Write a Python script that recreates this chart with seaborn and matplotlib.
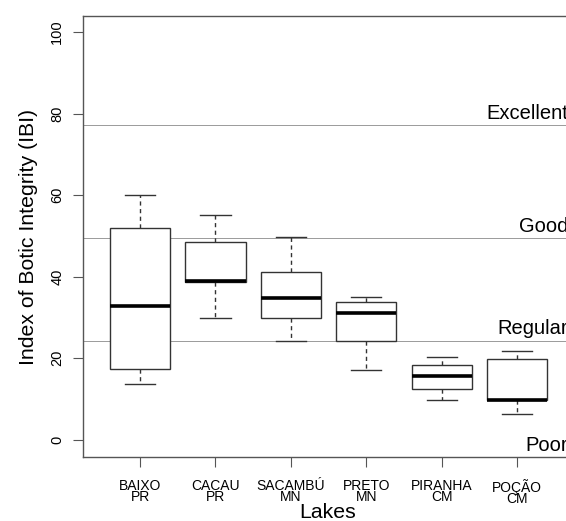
import pandas as pd
import numpy as np
import matplotlib.pyplot as plt
import seaborn as sns

# === Data: five-number summaries (min, Q1, median, Q3, max) ===
lakes = ["BAIXO\nPR", "CACAU\nPR", "SACAMBÚ\nMN", "PRETO\nMN", "PIRANHA\nCM", "POÇÃO\nCM"]
baixo = [13.7, 17.3, 32.8, 52.0, 60.0]
cacau = [29.9, 38.8, 39.0, 48.4, 55.2]
sacambu = [24.3, 29.9, 34.7, 41.1, 49.8]
preto = [17.2, 24.3, 31.0, 33.7, 34.9]
piranha = [9.8, 12.4, 15.7, 18.3, 20.3]
pocao = [6.4, 9.8, 9.8, 19.9, 21.8]

# quality classes (threshold lines + labels)
class_names = ["Excellent", "Good", "Regular", "Poor"]
class_lines = [77.3, 49.5, 24.3]
class_text_y = [78.6, 50.9, 25.9, -2.8]

df = pd.DataFrame({
    "lake": np.repeat(lakes, 5),
    "ibi": baixo + cacau + sacambu + preto + piranha + pocao,
})

# === Figure ===
plt.rcParams["font.family"] = ["Liberation Sans", "DejaVu Sans"]
fig = plt.figure(figsize=(5.66, 5.21), dpi=100)
ax = fig.add_axes([83 / 566, 64 / 521, 490 / 566, 441 / 521])

edge = "#333333"
for y in class_lines:
    ax.axhline(y, color="#9a9a9a", lw=0.7, zorder=0)

sns.boxplot(
    data=df, x="lake", y="ibi", ax=ax, order=lakes,
    color="white", linecolor=edge, linewidth=1.0, width=0.8,
    whis=(0, 100), showfliers=False,
    whiskerprops={"linestyle": (0, (3, 2.5))},
    medianprops={"color": "black", "linewidth": 2.6},
)

# labels sit at the right edge, partly cut off as in the original
for name, y in zip(class_names, class_text_y):
    ax.text(5.675, y, name, ha="right", va="baseline", fontsize=14.5, color="black")

# === Axes styling (R base look) ===
ax.set_xlim(-0.756, 5.74)
ax.set_ylim(-4.2, 103.9)
ax.set_yticks([0, 20, 40, 60, 80, 100])
ax.set_yticklabels(["0", "20", "40", "60", "80", "100"], rotation=90, va="center", fontsize=10.5)
ax.set_xticks(range(len(lakes)))
ax.set_xticklabels(lakes, fontsize=10, linespacing=0.78)
ax.tick_params(axis="both", length=7.5, width=0.8, color="#555555")
ax.tick_params(axis="x", pad=8)
ax.tick_params(axis="y", pad=6)
for side in ["left", "top", "bottom"]:
    ax.spines[side].set_color("#555555")
    ax.spines[side].set_linewidth(1.0)
ax.spines["right"].set_visible(False)

ax.set_xlabel("Lakes", fontsize=15.3, labelpad=-2.5)
ax.set_ylabel("Index of Botic Integrity (IBI)", fontsize=15.3, labelpad=9)

fig.savefig("out.png", dpi=100)
